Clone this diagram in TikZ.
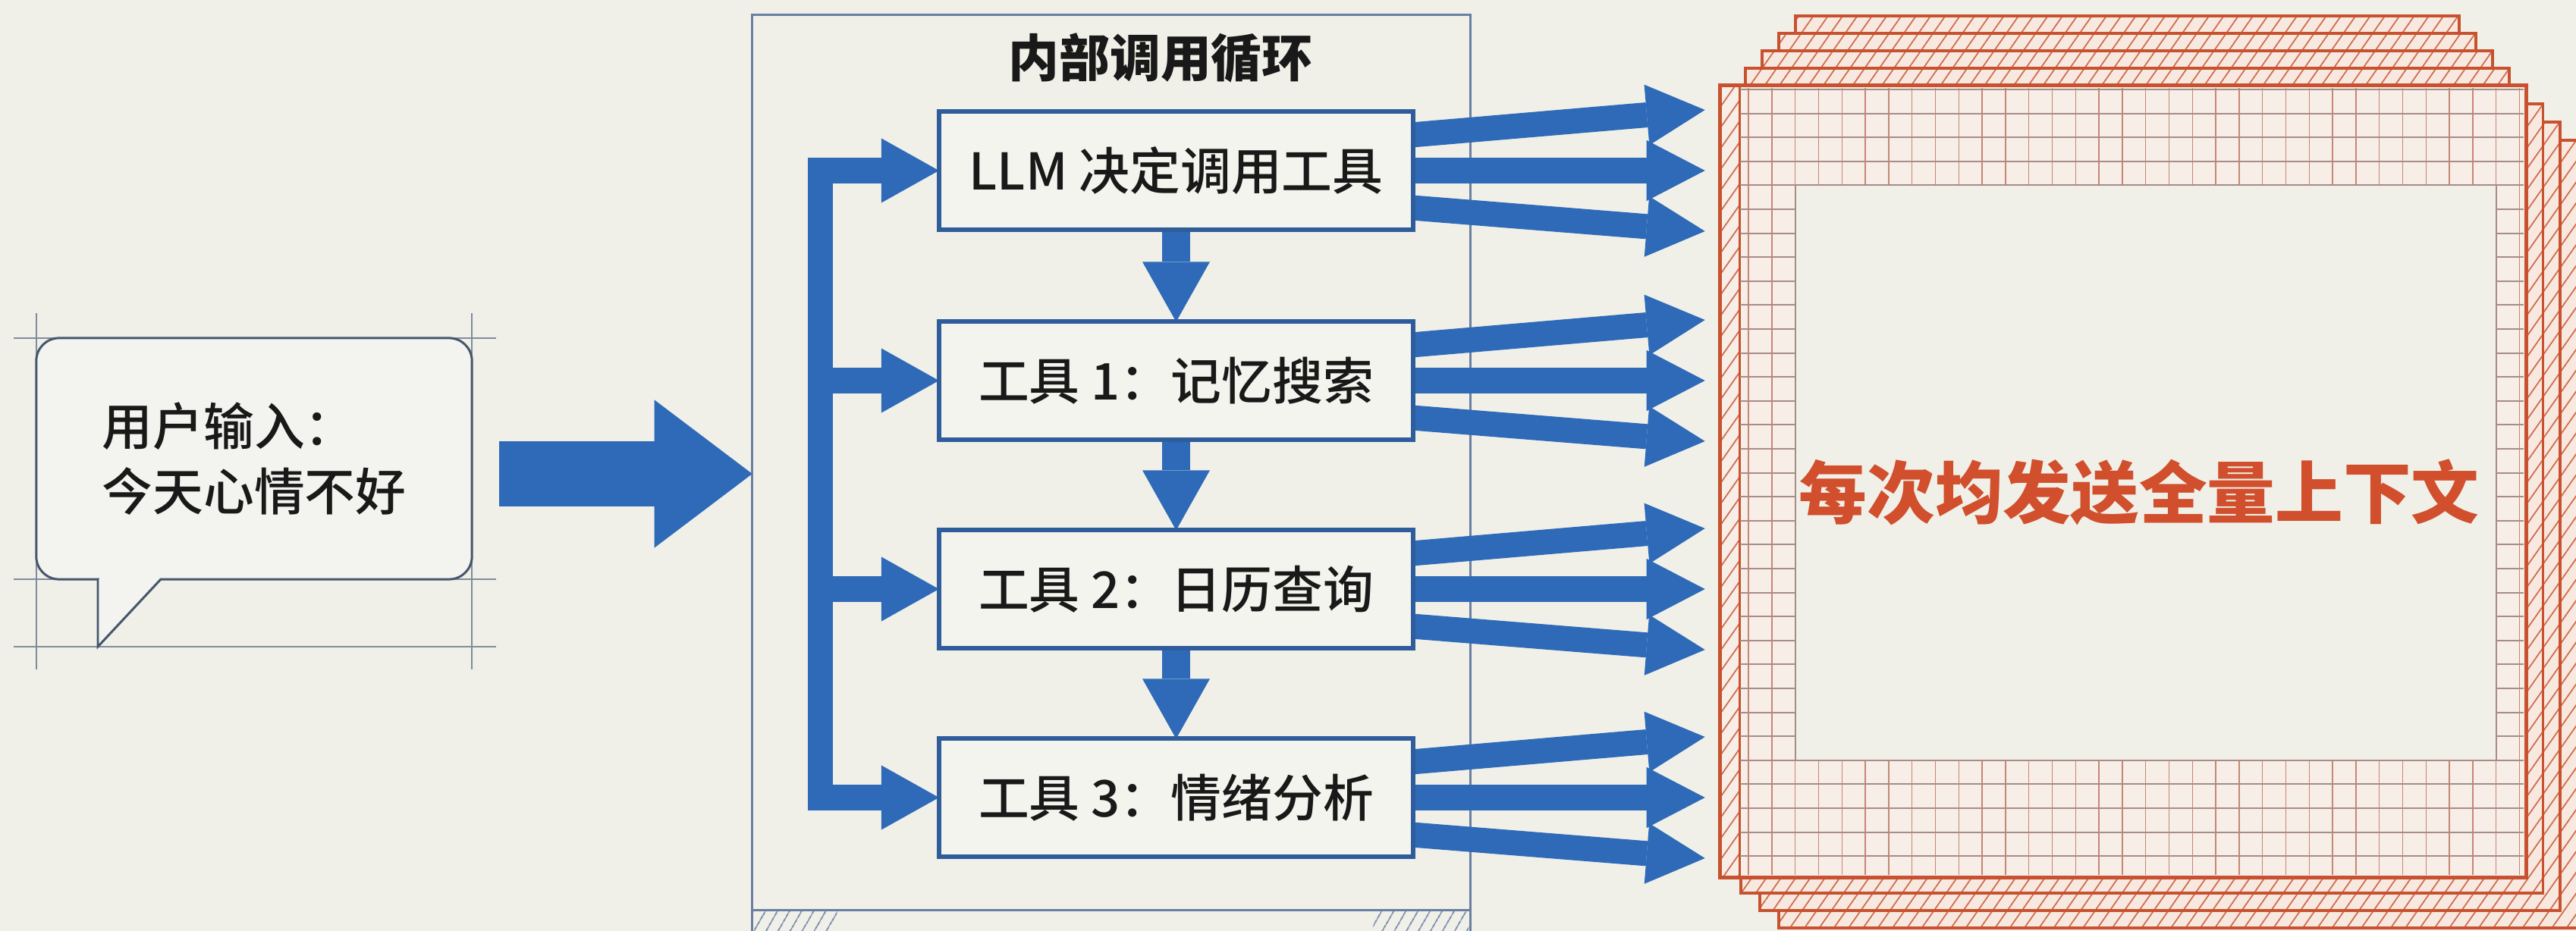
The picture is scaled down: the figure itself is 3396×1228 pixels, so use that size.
\documentclass[tikz,border=0pt]{standalone}
\usepackage{fontspec}
\setmainfont{Noto Sans CJK SC}
\newfontfamily\medfont{Noto Sans CJK SC Medium}
\usetikzlibrary{arrows.meta,calc,patterns.meta}
\pgfdeclarelayer{bgl}
\pgfdeclarelayer{arrl}
\pgfsetlayers{bgl,arrl,main}
\definecolor{bg}{HTML}{F0F0E8}
\definecolor{arrowblue}{HTML}{2E6AB8}
\definecolor{boxblue}{HTML}{2F5D9C}
\definecolor{boxfill}{HTML}{F4F4EE}
\definecolor{frameblue}{HTML}{6A7FA2}
\definecolor{guidecol}{HTML}{7F8C9C}
\definecolor{bubbleline}{HTML}{46566C}
\definecolor{bubblefill}{HTML}{F3F4EF}
\definecolor{stackred}{HTML}{C8522F}
\definecolor{stackfill}{HTML}{F8E9E0}
\definecolor{gridfill}{HTML}{F6EEE7}
\definecolor{cgridv}{HTML}{C88674}
\definecolor{cgridh}{HTML}{A88C86}
\definecolor{ctxtext}{HTML}{D14F2C}
\tikzset{
  guide/.style={draw=guidecol, line width=0.55pt},
  bubble/.style={draw=bubbleline, line width=0.85pt, fill=bubblefill, rounded corners=0.3cm,
    minimum width=5.74cm, minimum height=3.18cm, inner sep=0pt, outer sep=0pt, align=left,
    text=black!90, font=\medfont\fontsize{19pt}{24.2pt}\selectfont},
  loopbox/.style={draw=frameblue, line width=0.9pt, minimum width=9.46cm, minimum height=11.8cm,
    inner sep=0pt, outer sep=0pt},
  titletext/.style={font=\bfseries\fontsize{19pt}{19pt}\selectfont, text=black!90},
  toolbox/.style={draw=boxblue, fill=boxfill, line width=1.7pt, minimum width=6.25cm,
    minimum height=1.55cm, inner sep=0pt, outer sep=0pt, text=black!90,
    font=\medfont\fontsize{19pt}{19pt}\selectfont},
  fatarrow/.style={draw=arrowblue, line width=24.5pt,
    -{Triangle[length=36.7pt 0 0, width=55.5pt 0 0, line width=0pt 0 0]}},
  fanarrow/.style={draw=arrowblue, line width=9.4pt,
    -{Triangle[length=21.9pt 0 0, width=22.8pt 0 0, line width=0pt 0 0]}},
  busarrow/.style={draw=arrowblue, line width=9.4pt,
    -{Triangle[length=21.6pt 0 0, width=24.2pt 0 0, line width=0pt 0 0]}},
  downarrow/.style={draw=arrowblue, line width=10.5pt,
    -{Triangle[length=22.5pt 0 0, width=25.3pt 0 0, line width=0pt 0 0]}},
  busbar/.style={draw=arrowblue, line width=9.4pt},
  strip/.style={preaction={fill=stackfill},
    pattern={Lines[angle=55,distance=4.5pt,line width=0.5pt]}, pattern color=stackred!85,
    draw=stackred, line width=1.1pt},
  ctxsheet/.style={fill=gridfill, minimum width=10.62cm, minimum height=10.44cm,
    inner sep=0pt, outer sep=0pt},
  gridvl/.style={draw=cgridv, line width=0.4pt},
  gridhl/.style={draw=cgridh, line width=0.55pt},
  ctxlabelstyle/.style={font=\bfseries\fontsize{25.5pt}{25.5pt}\selectfont, text=ctxtext}
}
\begin{document}
\begin{tikzpicture}[x=0.01cm,y=-0.01cm]
\useasboundingbox (0,0) rectangle (3396,1228);
\begin{pgfonlayer}{bgl}
  \fill[bg] (0,0) rectangle (3396,1228);
  % guide lines around the bubble
  \draw[guide] (18,446) -- (654,446);
  \draw[guide] (18,764) -- (654,764);
  \draw[guide] (18,853) -- (654,853);
  \draw[guide] (48,413) -- (48,883);
  \draw[guide] (622,413) -- (622,883);
  % loop container
  \node[loopbox] (loop) at (1465,610) {};
  \draw[frameblue, line width=0.9pt] (loop.south west) -- ++(0,30);
  \draw[frameblue, line width=0.9pt] (loop.south east) -- ++(0,30);
  \path[pattern={Lines[angle=60,distance=4pt,line width=0.5pt]}, pattern color=frameblue]
    ($(loop.south west)+(2,2)$) rectangle ($(loop.south west)+(112,30)$);
  \path[pattern={Lines[angle=60,distance=4pt,line width=0.5pt]}, pattern color=frameblue]
    ($(loop.south east)+(-128,2)$) rectangle ($(loop.south east)+(-2,30)$);
\end{pgfonlayer}

% title
\node[titletext] (title) at (1530,76) {内部调用循环};

% speech bubble
\node[bubble] (user) at (335,605) {用户输入：\\今天心情不好};
\fill[bubblefill] (130.5,761) rectangle (211,767);
\fill[bubblefill] (129,764) -- (212,764) -- (129,853) -- cycle;
\draw[bubbleline, line width=0.85pt] (129,763) -- (129,853) -- (212,764);

% tool boxes
\node[toolbox] (b0) at (1550.5,225) {LLM 决定调用工具};
\node[toolbox] (b1) at (1550.5,502) {工具 1：记忆搜索};
\node[toolbox] (b2) at (1550.5,777) {工具 2：日历查询};
\node[toolbox] (b3) at (1550.5,1052) {工具 3：情绪分析};

% stack of context sheets (back sheets first)
\foreach \k in {3,2,1} {
  \path[strip] (2270+25*\k,113+24*\k) rectangle (3330+22.5*\k,1155+23*\k);
}
\foreach \k in {4,3,2,1} {
  \path[strip] (2279+22*\k,113-23*\k) rectangle (3330-22*\k,600);
}
\node[ctxsheet] (ctx) at (2799,635) {};
\path[pattern={Lines[angle=55,distance=4.5pt,line width=0.5pt]}, pattern color=stackred!85]
  (ctx.north west) rectangle ($(ctx.south west)+(26,0)$);
\draw[stackred, line width=0.7pt] ($(ctx.north west)+(26,0)$) -- ($(ctx.south west)+(26,0)$);
\foreach \i in {0,...,33} {
  \draw[gridvl] (2305+30.8*\i,116) -- (2305+30.8*\i,1154);
}
\foreach \j in {0,...,32} {
  \draw[gridhl] (2294,118+31.6*\j) -- (3327,118+31.6*\j);
}
\fill[bg] (2366.6,244.4) rectangle (3290.6,1002.8);
\draw[gridhl] (2366.6,244.4) rectangle (3290.6,1002.8);
\draw[stackred, line width=1.4pt] (ctx.north west) rectangle (ctx.south east);
\node[ctxlabelstyle] (ctxlabel) at (2820,649) {每次均发送全量上下文};

% arrows (drawn below the boxes)
\coordinate (m0) at (658,625);
\coordinate (bustop) at (1081.5,208.5);
\coordinate (busbot) at (1081.5,1068.5);
\begin{pgfonlayer}{arrl}
  \draw[fatarrow] (m0) -- (m0 -| loop.west);
  \draw[busbar] (bustop) -- (busbot);
  \foreach \b in {b0,b1,b2,b3} {
    \draw[busarrow] (bustop |- \b.west) -- (\b.west);
  }
  \draw[downarrow] (b0.south) -- (b1.north);
  \draw[downarrow] (b1.south) -- (b2.north);
  \draw[downarrow] (b2.south) -- (b3.north);
  \foreach \b in {b0,b1,b2,b3} {
    \draw[fanarrow] ($(\b.east)+(-14,-46)$) -- ($(ctx.west |- \b.east)+(-20,-80)$);
    \draw[fanarrow] ($(\b.east)+(-14,0)$) -- ($(ctx.west |- \b.east)+(-20,0)$);
    \draw[fanarrow] ($(\b.east)+(-14,48)$) -- ($(ctx.west |- \b.east)+(-20,80)$);
  }
\end{pgfonlayer}
\end{tikzpicture}
\end{document}
